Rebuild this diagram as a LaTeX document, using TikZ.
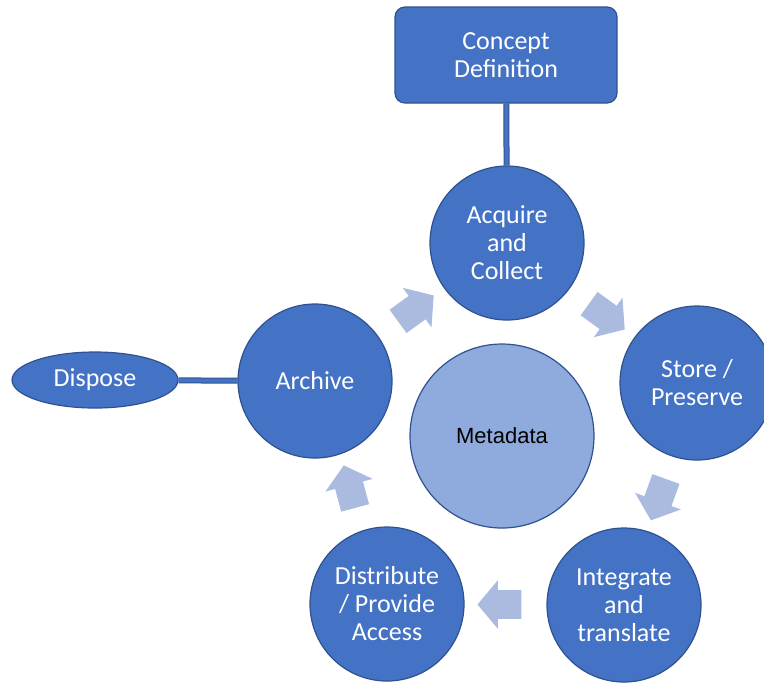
\documentclass[tikz,border=0pt]{standalone}
\usepackage{fontspec}
\setmainfont{Carlito}
\newfontfamily\metafont{Liberation Sans}
\usetikzlibrary{calc,shapes.geometric,shapes.arrows}
\definecolor{MDBlue}{HTML}{4472C4}
\definecolor{MDEdge}{HTML}{2F528F}
\definecolor{MDLight}{HTML}{8FAADC}
\definecolor{MDArrow}{HTML}{ABBBE0}

\begin{document}
\begin{tikzpicture}[
  x=0.5pt, y=-0.5pt,
  stage/.style={circle, draw=MDEdge, line width=0.6pt, fill=MDBlue, minimum size=77pt, inner sep=0pt, align=center, text=white, font=\fontsize{13}{14}\selectfont},
  core/.style={circle, draw=MDEdge, line width=0.6pt, fill=MDLight, minimum size=92pt, inner sep=0pt, font=\metafont\fontsize{11}{13}\selectfont},
  topbox/.style={rectangle, rounded corners=5pt, draw=MDEdge, line width=0.6pt, fill=MDBlue, minimum width=111pt, minimum height=48pt, align=center, text=white, font=\fontsize{13}{14}\selectfont},
  endnode/.style={ellipse, draw=MDEdge, line width=0.6pt, fill=MDBlue, minimum width=83pt, minimum height=28pt, inner sep=0pt, text=white, font=\fontsize{13}{14}\selectfont},
  cyclearrow/.style={single arrow, fill=MDArrow, draw=none, minimum height=22pt, inner xsep=0pt, inner ysep=7pt, single arrow head extend=5pt, single arrow tip angle=100},
  link/.style={draw=MDEdge, line width=0.5pt, double=MDBlue, double distance=2pt}
]
\clip (0,0) rectangle (764,682);
\fill[white] (0,0) rectangle (764,682);

% cycle stages
\node[stage] (acquire) at (507,243) {Acquire\\and\\Collect};
\node[stage] (store) at (697,383) {Store /\\Preserve};
\node[stage] (integrate) at (624,605) {Integrate\\and\\translate};
\node[stage] (distribute) at (387,604) {Distribute\\/ Provide\\Access};
\node[stage] (archive) at (315,381) {Archive};
\node[core] (meta) at (502,436) {Metadata};

% outer nodes
\node[topbox] (concept) at (506,55) {Concept\\Definition};
\node[endnode] (dispose) at (95,380) {Dispose};

\draw[link] (concept) -- (acquire);
\draw[link] (dispose) -- (archive);

% arrows between stages
\node[cyclearrow, rotate=36] (arrA) at ($(archive)!0.5!(acquire)$) {};
\node[cyclearrow, rotate=-36] (arrB) at ($(acquire)!0.5!(store)$) {};
\node[cyclearrow, rotate=-110] (arrC) at ($(store)!0.5!(integrate)$) {};
\node[cyclearrow, rotate=180] (arrD) at ($(integrate)!0.5!(distribute)$) {};
\node[cyclearrow, rotate=105] (arrE) at ($(distribute)!0.5!(archive)$) {};
\end{tikzpicture}
\end{document}
